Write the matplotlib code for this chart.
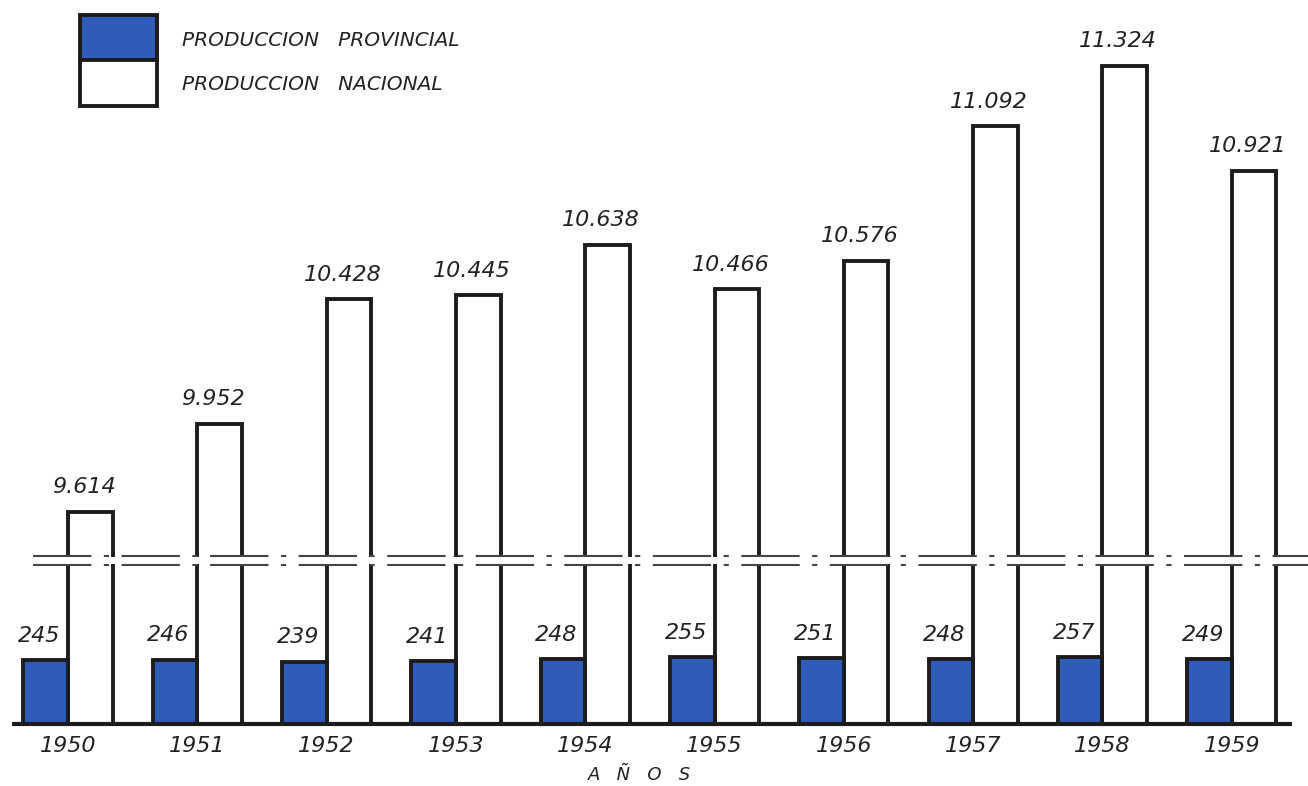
import matplotlib.pyplot as plt
from matplotlib.patches import Rectangle

years = ["1950", "1951", "1952", "1953", "1954", "1955", "1956", "1957", "1958", "1959"]
provincial = [245, 246, 239, 241, 248, 255, 251, 248, 257, 249]
nacional = [9614, 9952, 10428, 10445, 10638, 10466, 10576, 11092, 11324, 10921]
nac_labels = ["9.614", "9.952", "10.428", "10.445", "10.638", "10.466", "10.576", "11.092", "11.324", "10.921"]

# broken axis: national bars are drawn with this amount cut out
cut = 8800
break_lo, break_hi = 610, 644

blue = "#2f5cb8"
ink = "#1c1c1c"
txt = dict(color="#222222", style="italic", family="DejaVu Sans")

fig = plt.figure(figsize=(13.08, 7.86), dpi=100)
ax = fig.add_axes([0, 0, 1, 1])
ax.set_xlim(-0.526, 9.59)
ax.set_ylim(-238, 2776)
ax.axis("off")

w = 0.345
x = list(range(len(years)))
ax.bar([i - w / 2 for i in x], provincial, width=w, color=blue, edgecolor=ink, linewidth=2.8, zorder=3)
ax.bar([i + w / 2 for i in x], [v - cut for v in nacional], width=w, color="white",
       edgecolor=ink, linewidth=2.8, zorder=2)

# break band
ax.axhspan(break_lo + 3, break_hi - 3, color="white", zorder=4, lw=0)
for yb in (break_lo, break_hi):
    ax.axhline(yb, xmin=0.025, xmax=1.0, color="#444444", lw=1.5,
               linestyle=(0, (28, 6, 2.5, 6)), zorder=5)

# baseline
ax.plot([-0.43, 9.47], [0, 0], color=ink, lw=3, solid_capstyle="butt", zorder=6)

for i in x:
    ax.text(i - w / 2 - 0.05, provincial[i] + 55, str(provincial[i]), ha="center", va="bottom", fontsize=16, **txt)
    ax.text(i + w / 2 - 0.05, nacional[i] - cut + 55, nac_labels[i], ha="center", va="bottom", fontsize=16, **txt)
    ax.text(i, -45, years[i], ha="center", va="top", fontsize=16, **txt)

ax.text(4.42, -160, "A   Ñ   O   S", ha="center", va="top", fontsize=13, **txt)

# legend boxes
fig.add_artist(Rectangle((80 / 1308, 1 - 60 / 786), 77 / 1308, 45 / 786, transform=fig.transFigure,
                         facecolor=blue, edgecolor=ink, lw=2.8))
fig.add_artist(Rectangle((80 / 1308, 1 - 106 / 786), 77 / 1308, 46 / 786, transform=fig.transFigure,
                         facecolor="white", edgecolor=ink, lw=2.8))
fig.text(182 / 1308, 1 - 40 / 786, "PRODUCCION   PROVINCIAL", ha="left", va="center", fontsize=14.5, **txt)
fig.text(182 / 1308, 1 - 85 / 786, "PRODUCCION   NACIONAL", ha="left", va="center", fontsize=14.5, **txt)

fig.savefig("out.png", dpi=100)
